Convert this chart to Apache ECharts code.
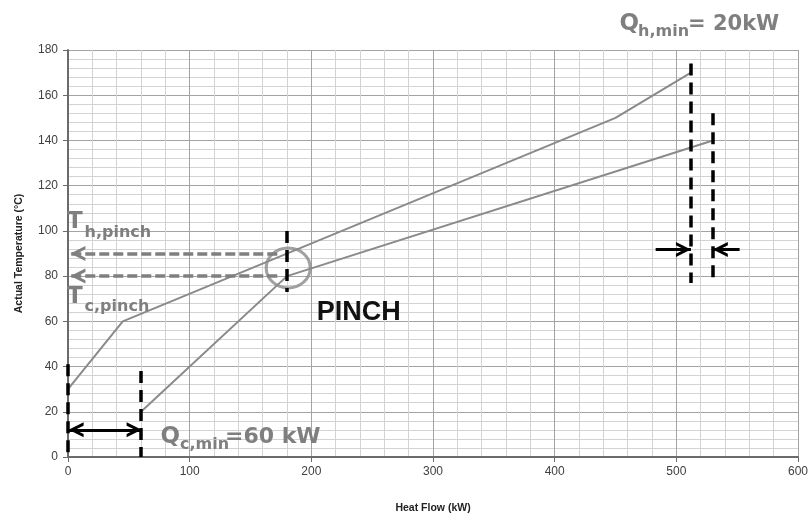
<!DOCTYPE html>
<html><head><meta charset="utf-8">
<script src="https://cdn.jsdelivr.net/npm/echarts/dist/echarts.min.js"></script>
<style>html,body{margin:0;padding:0;background:#fff}#c{width:811px;height:516px}</style>
</head><body><div id="c"></div>
<script>
// ---- data ----
const hotCurve = [[0,30],[45,60],[450,150],[512,170]];
const coldCurve = [[60,20],[180,80],[530,140]];
const xRange = [0, 600, 100];
const yRange = [0, 180, 20];
const xName = 'Heat Flow (kW)';
const yName = 'Actual Temperature (°C)';
// annotation geometry in data units
const qhMinDashes = [[[512,174],[512,77]], [[530,152],[530,78]]];
const qcMinDashes = [[[0,41],[0,0]], [[60,38],[60,0]]];
const pinchDash = [[180,100],[180,73]];
const pinchPoint = [181,83.6];
const pinchTempArrows = [[[172,90],[2,90]], [[172,80],[2,80]]];
const qhArrows = [[[483,91.8],[512,91.8]], [[552,91.8],[530,91.8]]];
const qcArrow = [[0.5,12],[60.5,12]];

const GRAY = '#8a8a8a';
const TXT_GRAY = '#7f7f7f';
const CHEV = 'path://M0,10 L5,0 L10,10 L7.8,10 L5,4.4 L2.2,10 Z';

function pt(c, sym) {
  const o = {coord: c};
  if (sym) { o.symbol = CHEV; o.symbolSize = [15, 15]; o.symbolOffset = [0, 7.5]; }
  else { o.symbol = 'none'; }
  return o;
}
function seg(a, b, style, symA, symB) {
  const s = pt(a, symA); s.lineStyle = style;
  return [s, pt(b, symB)];
}
const blackDash = {color:'#000', width:3.5, type:[12,7]};
const grayDash = {color:TXT_GRAY, width:3.5, type:[10,4]};
const blackSolid = {color:'#000', width:3, type:'solid'};

const markData = [];
qhMinDashes.forEach(d => markData.push(seg(d[0], d[1], blackDash)));
qcMinDashes.forEach(d => markData.push(seg(d[0], d[1], blackDash)));
markData.push(seg(pinchDash[0], pinchDash[1], blackDash));
pinchTempArrows.forEach(d => markData.push(seg(d[0], d[1], grayDash, false, true)));
qhArrows.forEach(d => markData.push(seg(d[0], d[1], blackSolid, false, true)));
markData.push(seg(qcArrow[0], qcArrow[1], blackSolid, true, true));

function txt(x, baseline, text, size, opts) {
  opts = opts || {};
  return {
    type: 'text', x: x, y: baseline - size * 0.35, silent: true, z: 100,
    style: {
      text: text, fontSize: size, fontWeight: 'bold',
      fontFamily: opts.family || 'DejaVu Sans', fill: opts.color || TXT_GRAY,
      align: 'left', verticalAlign: 'middle'
    }
  };
}

const axisCommon = {
  axisLine: {show:true, lineStyle:{color:'#6b6b6b', width:2}},
  axisTick: {show:true, length:5, lineStyle:{color:'#6b6b6b', width:1}},
  axisLabel: {color:'#404040', fontSize:12, fontFamily:'Liberation Sans, Arial'},
  splitLine: {show:true, lineStyle:{color:'#a3a3a3', width:1}},
  minorTick: {show:false, splitNumber:5},
  minorSplitLine: {show:true, lineStyle:{color:'#d3d3d3', width:1}},
  nameLocation: 'middle',
  nameTextStyle: {fontFamily:'Liberation Sans, Arial', fontWeight:'bold', fontSize:10.5, color:'#222'}
};

const chart = echarts.init(document.getElementById('c'), null, {renderer:'canvas'});
chart.setOption({
  animation: false,
  backgroundColor: '#fff',
  grid: {left:68, right:13, top:50, bottom:59, containLabel:false, outerBoundsMode:'none'},
  xAxis: Object.assign({}, axisCommon, {
    type:'value', min:xRange[0], max:xRange[1], interval:xRange[2],
    name: xName, nameGap: 46,
    axisLabel: Object.assign({}, axisCommon.axisLabel, {margin:9})
  }),
  yAxis: Object.assign({}, axisCommon, {
    type:'value', min:yRange[0], max:yRange[1], interval:yRange[2],
    name: yName, nameGap: 43,
    axisLabel: Object.assign({}, axisCommon.axisLabel, {margin:10})
  }),
  series: [
    {type:'line', data:hotCurve, symbol:'none', silent:true, z:3,
     lineStyle:{color:GRAY, width:2}},
    {type:'line', data:coldCurve, symbol:'none', silent:true, z:3,
     lineStyle:{color:GRAY, width:2}},
    {type:'scatter', data:[pinchPoint], symbol:'circle', symbolSize:[44,40], silent:true, z:4,
     itemStyle:{color:'rgba(0,0,0,0)', borderColor:GRAY, borderWidth:3}},
    {type:'line', data:[], silent:true, z:5,
     markLine:{silent:true, animation:false, symbol:['none','none'],
       label:{show:false}, emphasis:{disabled:true},
       data: markData}}
  ],
  graphic: [
    txt(619.5, 32, 'Q', 23), txt(638, 37, 'h,min', 16), txt(688, 32, '= 20kW', 21),
    txt(160.5, 445, 'Q', 23), txt(180, 450.5, 'c,min', 16), txt(225, 445, '=60 kW', 22),
    txt(67, 230.5, 'T', 23), txt(84.5, 238, 'h,pinch', 16),
    txt(67, 305, 'T', 23), txt(84.5, 312.5, 'c,pinch', 16),
    txt(316.7, 321.7, 'PINCH', 27, {family:'Liberation Sans, Arial', color:'#111'})
  ]
});
</script></body></html>
